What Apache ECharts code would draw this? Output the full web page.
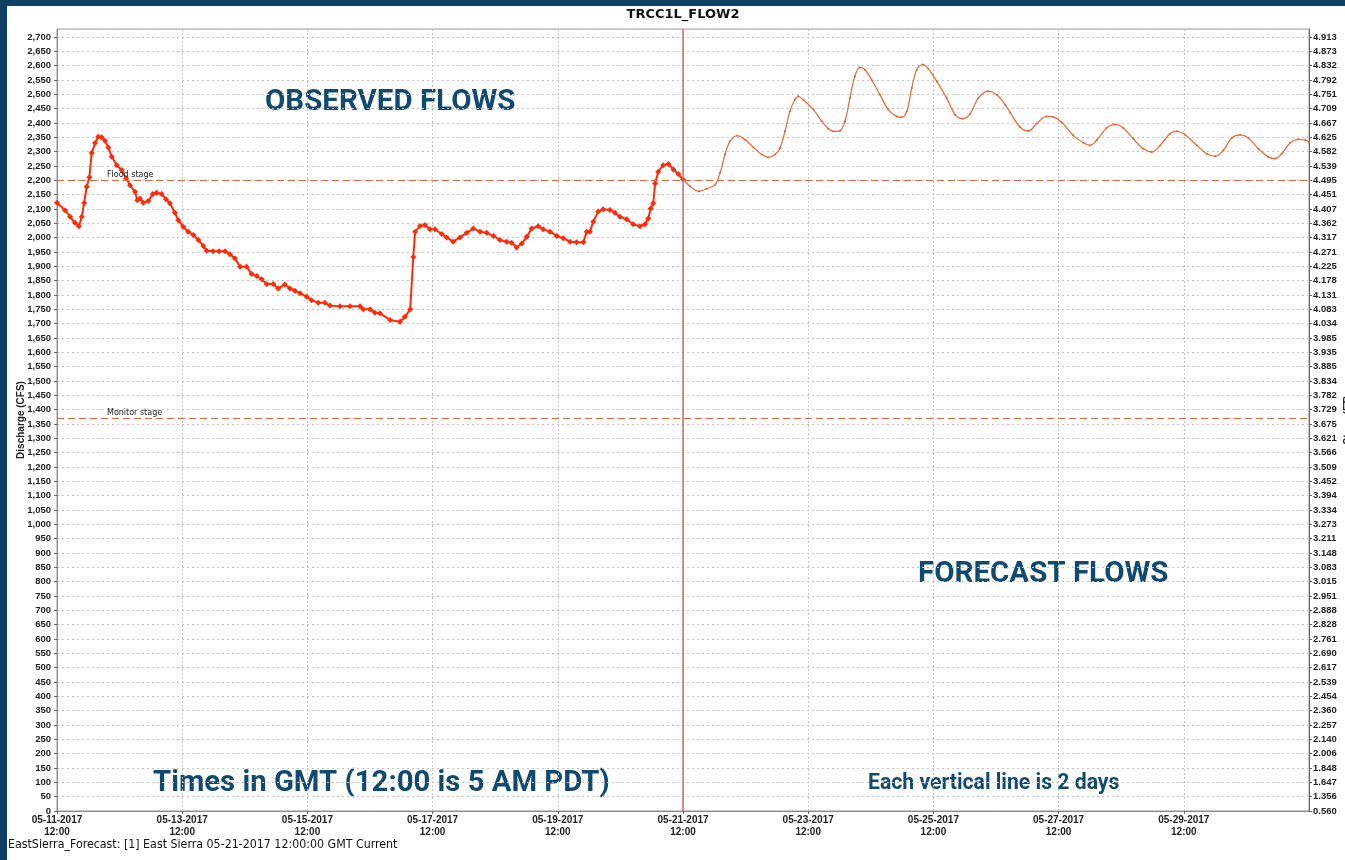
<!DOCTYPE html>
<html>
<head>
<meta charset="utf-8">
<title>TRCC1L_FLOW2</title>
<script src="https://cdn.jsdelivr.net/npm/echarts/dist/echarts.min.js"></script>
<style>
  html, body { margin: 0; padding: 0; background: #0e4064; width: 1345px; height: 860px; overflow: hidden; }
  #chart { position: absolute; left: 7px; top: 6px; width: 1338px; height: 854px; background: #fff; }
</style>
</head>
<body>
<div id="chart"></div>
<script>
// hours after 05-11-2017 12:00 GMT
var obsHours = [0, 3.1, 5.0, 6.9, 8.4, 9.5, 10.4, 11.4, 12.4, 13.3,
  14.6, 15.8, 17.1, 18.4, 19.7, 21.0, 22.9, 24.8, 26.5, 28.0,
  29.9, 30.8, 31.8, 33.1, 35.0, 36.7, 38.2, 40.1, 41.8, 43.3,
  45.2, 46.5, 48.4, 50.3, 52.3, 54.2, 56.1, 57.4, 59.8, 62.1,
  64.4, 66.3, 68.2, 70.2, 72.7, 74.6, 76.6, 78.5, 80.4, 82.9,
  84.8, 87.4, 89.3, 91.2, 93.2, 95.7, 97.6, 100.2, 102.7, 104.7,
  108.5, 112.3, 116.2, 117.4, 120.0, 121.9, 123.8, 127.7, 131.5, 133.4,
  135.4, 136.6, 137.3, 139.2, 141.1, 143.0, 144.9, 147.5, 149.4, 151.9,
  154.5, 157.1, 159.6, 162.2, 164.7, 167.3, 169.8, 172.4, 174.3, 176.2,
  178.2, 180.1, 182.0, 184.5, 186.4, 189.0, 191.6, 194.1, 196.7, 199.2,
  201.8, 203.1, 204.3, 205.6, 207.5, 209.4, 212.0, 213.9, 215.8, 218.4,
  220.9, 223.5, 225.4, 226.7, 227.6, 228.6, 229.3, 230.5, 232.4, 234.4,
  236.3, 238.2, 240.0];
var obsFlow = [2122, 2096, 2073, 2052, 2040, 2073, 2121, 2178, 2211, 2295,
  2330, 2352, 2350, 2338, 2315, 2282, 2253, 2236, 2207, 2183,
  2160, 2131, 2137, 2122, 2128, 2152, 2157, 2152, 2134, 2120,
  2087, 2061, 2038, 2021, 2009, 1992, 1971, 1954, 1953, 1953,
  1953, 1942, 1928, 1899, 1899, 1873, 1866, 1855, 1838, 1838,
  1823, 1837, 1823, 1815, 1806, 1794, 1782, 1773, 1773, 1763,
  1761, 1761, 1761, 1750, 1750, 1738, 1736, 1713, 1707, 1724,
  1750, 1933, 2021, 2041, 2044, 2029, 2029, 2013, 2001, 1986,
  2001, 2017, 2032, 2021, 2017, 2006, 1992, 1986, 1982, 1966,
  1980, 2003, 2032, 2040, 2029, 2021, 2006, 1998, 1986, 1984,
  1984, 2021, 2021, 2056, 2091, 2099, 2097, 2087, 2073, 2064,
  2047, 2040, 2047, 2067, 2102, 2120, 2189, 2230, 2253, 2257,
  2238, 2222, 2203];

var fcstHours = [240, 242.7, 246.2, 249.1, 252.3, 254.2, 256.1, 258.0, 260.8, 263.8,
  267.0, 270.2, 272.7, 275.3, 277.2, 279.1, 281.0, 282.9, 284.2, 286.1,
  290.0, 293.2, 295.7, 297.6, 300.2, 302.1, 304.0, 305.9, 307.8, 309.8,
  312.3, 315.5, 318.7, 321.9, 323.8, 325.8, 327.7, 329.6, 331.9, 334.0,
  337.3, 341.1, 344.3, 347.2, 350.0, 353.2, 357.0, 360.3, 363.5, 365.4,
  369.2, 372.4, 375.6, 379.4, 382.0, 385.2, 389.6, 393.5, 396.0, 398.6,
  402.4, 405.6, 408.8, 412.6, 416.5, 419.7, 422.9, 426.7, 429.3, 432.5,
  437.0, 440.8, 444.0, 447.2, 450.4, 453.6, 456.8, 460.6, 464.5, 467.0,
  469.6, 472.8, 476.0, 478.6, 480.0];
var fcstFlow = [2205, 2179, 2162, 2171, 2185, 2226, 2290, 2336, 2356, 2342,
  2315, 2290, 2280, 2290, 2313, 2371, 2441, 2481, 2493, 2481,
  2447, 2406, 2380, 2371, 2373, 2406, 2487, 2563, 2594, 2586,
  2551, 2499, 2447, 2423, 2420, 2441, 2522, 2586, 2604, 2590,
  2545, 2487, 2429, 2415, 2431, 2487, 2511, 2499, 2464, 2437,
  2386, 2372, 2398, 2423, 2421, 2403, 2357, 2331, 2322, 2340,
  2383, 2395, 2383, 2345, 2310, 2299, 2322, 2363, 2371, 2359,
  2322, 2293, 2284, 2305, 2348, 2359, 2348, 2310, 2281, 2276,
  2293, 2331, 2343, 2340, 2334];

// x tick labels, every 48 h
var dateLabels = ['05-11-2017', '05-13-2017', '05-15-2017', '05-17-2017', '05-19-2017',
  '05-21-2017', '05-23-2017', '05-25-2017', '05-27-2017', '05-29-2017', '05-31-2017'];

// right axis labels (stage, ft) for flow 0, 50, ... 2700
var stageLabels = ['0.560', '1.356', '1.647', '1.848', '2.006', '2.140', '2.257', '2.360', '2.454', '2.539',
  '2.617', '2.690', '2.761', '2.828', '2.888', '2.951', '3.015', '3.083', '3.148', '3.211',
  '3.273', '3.334', '3.394', '3.452', '3.509', '3.566', '3.621', '3.675', '3.729', '3.782',
  '3.834', '3.885', '3.935', '3.985', '4.034', '4.083', '4.131', '4.178', '4.225', '4.271',
  '4.317', '4.362', '4.407', '4.451', '4.495', '4.539', '4.582', '4.625', '4.667', '4.709',
  '4.751', '4.792', '4.832', '4.873', '4.913'];

var floodStage = 2200;
var monitorStage = 1370;
var currentHour = 240;

function zip(xs, ys) {
  return xs.map(function (x, i) { return [x, ys[i]]; });
}

var axisFont = 'Liberation Sans, Arial, sans-serif';
var blue = '#114a6f';

var chart = echarts.init(document.getElementById('chart'));

var option = {
  animation: false,
  grid: {
    left: 50, right: 36, top: 23, bottom: 49,
    outerBoundsMode: 'none', containLabel: false,
    show: true, borderColor: '#9a9a9a', borderWidth: 1
  },
  xAxis: {
    type: 'value',
    min: 0, max: 480, interval: 48,
    axisLine: { lineStyle: { color: '#888' } },
    axisTick: { length: 3, lineStyle: { color: '#666' } },
    axisLabel: {
      showMaxLabel: false,
      color: '#222', fontFamily: axisFont, fontWeight: 'bold', fontSize: 10,
      lineHeight: 12, margin: 3,
      formatter: function (v) { return dateLabels[Math.round(v / 48)] + '\n12:00'; }
    },
    splitLine: { show: true, lineStyle: { color: '#c4c4c4', type: [2, 2] } }
  },
  yAxis: [{
    type: 'value',
    min: 0, max: 2728, interval: 50,
    name: 'Discharge (CFS)', nameLocation: 'middle', nameGap: 31, nameMoveOverlap: false,
    nameTextStyle: { color: '#222', fontFamily: axisFont, fontWeight: 'bold', fontSize: 10 },
    axisLine: { show: true, lineStyle: { color: '#888' } },
    axisTick: { show: true, length: 3, lineStyle: { color: '#666' } },
    axisLabel: {
      showMaxLabel: false, margin: 6,
      color: '#222', fontFamily: axisFont, fontWeight: 'bold', fontSize: 9.5,
      formatter: function (v) { return v.toLocaleString('en-US'); }
    },
    splitLine: { show: true, lineStyle: { color: '#c4c4c4', type: [2, 3] } }
  }, {
    type: 'value',
    position: 'right',
    min: 0, max: 2728, interval: 50,
    // mostly off the page edge, as in the source picture
    name: 'Stage (FT)', nameLocation: 'middle', nameGap: 34, nameMoveOverlap: false,
    nameTextStyle: { color: '#222', fontFamily: axisFont, fontWeight: 'bold', fontSize: 10 },
    axisLine: { show: true, lineStyle: { color: '#666' } },
    axisTick: { show: true, length: 3, lineStyle: { color: '#666' } },
    axisLabel: {
      showMaxLabel: false, margin: 4,
      color: '#222', fontFamily: axisFont, fontWeight: 'bold', fontSize: 9.5,
      formatter: function (v) { return stageLabels[Math.round(v / 50)] || ''; }
    },
    splitLine: { show: false }
  }],
  series: [{
    name: 'Observed',
    type: 'line',
    data: zip(obsHours, obsFlow),
    symbol: 'diamond', symbolSize: 6,
    lineStyle: { color: '#ff2a0a', width: 2 },
    itemStyle: { color: '#ff2a0a' },
    z: 4,
    markLine: {
      silent: true,
      symbol: 'none',
      data: [
        { yAxis: floodStage, lineStyle: { color: '#e0673c', type: [7, 4], width: 1 },
          label: { formatter: 'Flood stage', position: 'insideStartTop', distance: [50, 1] } },
        { yAxis: monitorStage, lineStyle: { color: '#e0673c', type: [7, 4], width: 1 },
          label: { formatter: 'Monitor stage', position: 'insideStartTop', distance: [50, 1] } },
        { xAxis: currentHour, lineStyle: { color: '#d06a6a', type: 'solid', width: 1.5 },
          label: { show: false } }
      ],
      label: { color: '#222', fontFamily: 'DejaVu Sans, sans-serif', fontSize: 8 }
    }
  }, {
    name: 'Forecast',
    type: 'line',
    data: zip(fcstHours, fcstFlow),
    smooth: 0.35,
    symbol: 'circle', symbolSize: 2,
    lineStyle: { color: '#e8703e', width: 1.3 },
    itemStyle: { color: '#e0603a' },
    z: 3
  }],
  graphic: [
    { type: 'text', x: 676, y: 9,
      style: { text: 'TRCC1L_FLOW2', font: 'bold 13px DejaVu Sans, sans-serif', fill: '#111',
        textAlign: 'center', textVerticalAlign: 'middle' } },
    { type: 'text', x: 258, y: 97,
      style: { text: 'OBSERVED FLOWS', font: 'bold 29.5px Roboto, sans-serif', fill: blue, textVerticalAlign: 'middle' } },
    { type: 'text', x: 911, y: 569,
      style: { text: 'FORECAST FLOWS', font: 'bold 29.5px Roboto, sans-serif', fill: blue, textVerticalAlign: 'middle' } },
    { type: 'text', x: 146, y: 778,
      style: { text: 'Times in GMT (12:00 is 5 AM PDT)', font: 'bold 29.3px Roboto, sans-serif', fill: blue, textVerticalAlign: 'middle' } },
    { type: 'text', x: 861, y: 778,
      style: { text: 'Each vertical line is 2 days', font: 'bold 21.2px Roboto, sans-serif', fill: blue, textVerticalAlign: 'middle' } },
    { type: 'text', x: 1, y: 839,
      style: { text: 'EastSierra_Forecast: [1] East Sierra 05-21-2017 12:00:00 GMT Current',
        font: '12.3px DejaVu Sans Condensed, DejaVu Sans, sans-serif', fill: '#111', textVerticalAlign: 'middle' } }
  ]
};

chart.setOption(option);
</script>
</body>
</html>
